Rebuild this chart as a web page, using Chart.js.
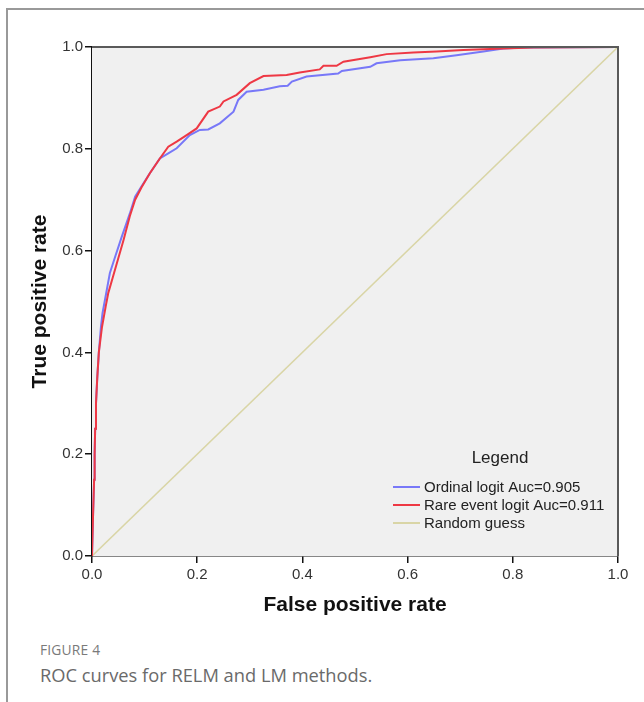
<!DOCTYPE html>
<html>
<head>
<meta charset="utf-8">
<script src="https://cdn.jsdelivr.net/npm/chart.js@4.4.0/dist/chart.umd.min.js"></script>
<style>
  body { margin: 0; background: #fff; width: 644px; height: 702px; overflow: hidden; position: relative; }
  #frame { position: absolute; left: 6px; top: 8px; right: -4px; bottom: -4px; border-left: 2px solid #999; border-top: 2px solid #999; }
  #wrap { position: absolute; left: 0; top: 0; }
  .fig { position: absolute; left: 40px; top: 640px; font-family: "Open Sans", sans-serif; font-size: 13.8px; color: #7a7a7a; letter-spacing: 0.2px; }
  .cap { position: absolute; left: 40px; top: 662px; font-family: "Open Sans", sans-serif; font-size: 18.3px; color: #6a6a6a; }
</style>
</head>
<body>
<div id="frame"></div>
<div id="wrap"><canvas id="roc" width="644" height="626"></canvas></div>
<div class="fig">FIGURE 4</div>
<div class="cap">ROC curves for RELM and LM methods.</div>
<script>
// ROC data
var seriesNames = ["Ordinal logit Auc=0.905", "Rare event logit Auc=0.911", "Random guess"];
var seriesColors = ["#7878f8", "#ee3844", "#d9d5a6"];

var fprOrdinal = [0, 0.002, 0.004, 0.005, 0.006, 0.0076, 0.01, 0.013, 0.017, 0.02, 0.034, 0.044, 0.0565, 0.072, 0.082, 0.094, 0.11, 0.129, 0.145, 0.161, 0.186, 0.205, 0.221, 0.243, 0.269, 0.278, 0.294, 0.326, 0.357, 0.372, 0.38, 0.408, 0.468, 0.475, 0.529, 0.541, 0.586, 0.649, 0.693, 0.744, 0.782, 0.82, 1];
var tprOrdinal = [0, 0.08, 0.15, 0.2, 0.25, 0.3, 0.35, 0.4, 0.45, 0.477, 0.556, 0.588, 0.627, 0.673, 0.706, 0.726, 0.752, 0.781, 0.791, 0.801, 0.827, 0.837, 0.838, 0.85, 0.873, 0.896, 0.912, 0.916, 0.923, 0.924, 0.932, 0.942, 0.948, 0.953, 0.961, 0.968, 0.974, 0.978, 0.984, 0.991, 0.997, 0.999, 1];

var fprRare = [0, 0.002, 0.004, 0.005, 0.006, 0.0076, 0.01, 0.013, 0.019, 0.026, 0.031, 0.04, 0.05, 0.06, 0.072, 0.082, 0.094, 0.11, 0.129, 0.145, 0.161, 0.18, 0.199, 0.221, 0.243, 0.25, 0.275, 0.3, 0.326, 0.37, 0.395, 0.433, 0.44, 0.465, 0.478, 0.529, 0.56, 0.611, 0.655, 0.706, 0.782, 0.839, 1];
var tprRare = [0, 0.08, 0.15, 0.2, 0.25, 0.3, 0.35, 0.4, 0.45, 0.49, 0.517, 0.549, 0.585, 0.621, 0.668, 0.7, 0.724, 0.752, 0.781, 0.804, 0.814, 0.827, 0.84, 0.873, 0.883, 0.893, 0.906, 0.929, 0.943, 0.945, 0.95, 0.956, 0.963, 0.963, 0.971, 0.98, 0.986, 0.989, 0.991, 0.994, 0.997, 0.999, 1];

var fprRandom = [0, 1];
var tprRandom = [0, 1];

var axisTicks = [0, 0.2, 0.4, 0.6, 0.8, 1.0];

function toPoints(xs, ys) {
  return xs.map(function(x, i) { return {x: x, y: ys[i]}; });
}

// grey panel + dark top/right frame
var panelPlugin = {
  id: 'panel',
  beforeDatasetsDraw: function(chart) {
    var a = chart.chartArea, c = chart.ctx;
    c.save();
    c.fillStyle = '#f0f0f0';
    c.fillRect(a.left, a.top, a.right - a.left, a.bottom - a.top);
    c.restore();
  },
  afterDatasetsDraw: function(chart) {
    var a = chart.chartArea, c = chart.ctx;
    c.save();
    c.strokeStyle = '#5a5a5a';
    c.lineWidth = 2;
    c.beginPath();
    c.moveTo(a.left, a.top);
    c.lineTo(a.right, a.top);
    c.lineTo(a.right, a.bottom);
    c.stroke();
    c.restore();
  }
};

// legend drawn inside the plot, like the SPSS output
var insideLegend = {
  id: 'insideLegend',
  afterDraw: function(chart) {
    var c = chart.ctx;
    c.save();
    c.fillStyle = '#222';
    c.font = '17px "Liberation Sans", Arial, sans-serif';
    c.textAlign = 'center';
    c.textBaseline = 'middle';
    c.fillText('Legend', 500, 458);
    c.font = '15px "Liberation Sans", Arial, sans-serif';
    c.textAlign = 'left';
    for (var i = 0; i < seriesNames.length; i++) {
      var y = 487 + i * 18;
      c.strokeStyle = seriesColors[i];
      c.lineWidth = 2;
      c.beginPath();
      c.moveTo(393, y);
      c.lineTo(420, y);
      c.stroke();
      c.fillText(seriesNames[i], 424, y + 1);
    }
    c.restore();
  }
};

var tickFont = {family: '"Liberation Sans", Arial, sans-serif', size: 15};
var titleFont = {family: '"Liberation Sans", Arial, sans-serif', size: 21, weight: 'bold'};

new Chart(document.getElementById('roc'), {
  type: 'scatter',
  data: {
    datasets: [
      {label: seriesNames[0], data: toPoints(fprOrdinal, tprOrdinal), borderColor: seriesColors[0], borderWidth: 2, showLine: true, pointRadius: 0, order: 1},
      {label: seriesNames[1], data: toPoints(fprRare, tprRare), borderColor: seriesColors[1], borderWidth: 2, showLine: true, pointRadius: 0, order: 0},
      {label: seriesNames[2], data: toPoints(fprRandom, tprRandom), borderColor: seriesColors[2], borderWidth: 1.6, showLine: true, pointRadius: 0, order: 2}
    ]
  },
  options: {
    responsive: false,
    animation: false,
    devicePixelRatio: 1,
    layout: {padding: {left: 0, right: 26, top: 47, bottom: 0}},
    plugins: {legend: {display: false}, tooltip: {enabled: false}},
    scales: {
      x: {
        type: 'linear', min: 0, max: 1,
        afterBuildTicks: function(s) { s.ticks = axisTicks.map(function(v) { return {value: v}; }); },
        afterFit: function(s) { s.height = 70; },
        ticks: {color: '#333', font: tickFont, padding: 3, maxRotation: 0, callback: function(v) { return v.toFixed(1); }},
        grid: {drawOnChartArea: false, drawTicks: true, tickLength: 7, color: '#111', lineWidth: 1.5},
        border: {display: true, color: '#111', width: 1.5},
        title: {display: true, text: 'False positive rate', color: '#111', font: titleFont, padding: {top: 0, bottom: 8}}
      },
      y: {
        type: 'linear', min: 0, max: 1,
        afterBuildTicks: function(s) { s.ticks = axisTicks.map(function(v) { return {value: v}; }); },
        afterFit: function(s) { s.width = 92; },
        ticks: {color: '#333', font: tickFont, padding: 2, callback: function(v) { return v.toFixed(1); }},
        grid: {drawOnChartArea: false, drawTicks: true, tickLength: 7, color: '#111', lineWidth: 1.5},
        border: {display: true, color: '#111', width: 1.5},
        title: {display: true, text: 'True positive rate', color: '#111', font: titleFont, padding: {top: 28, bottom: 0}}
      }
    }
  },
  plugins: [panelPlugin, insideLegend]
});
</script>
</body>
</html>
